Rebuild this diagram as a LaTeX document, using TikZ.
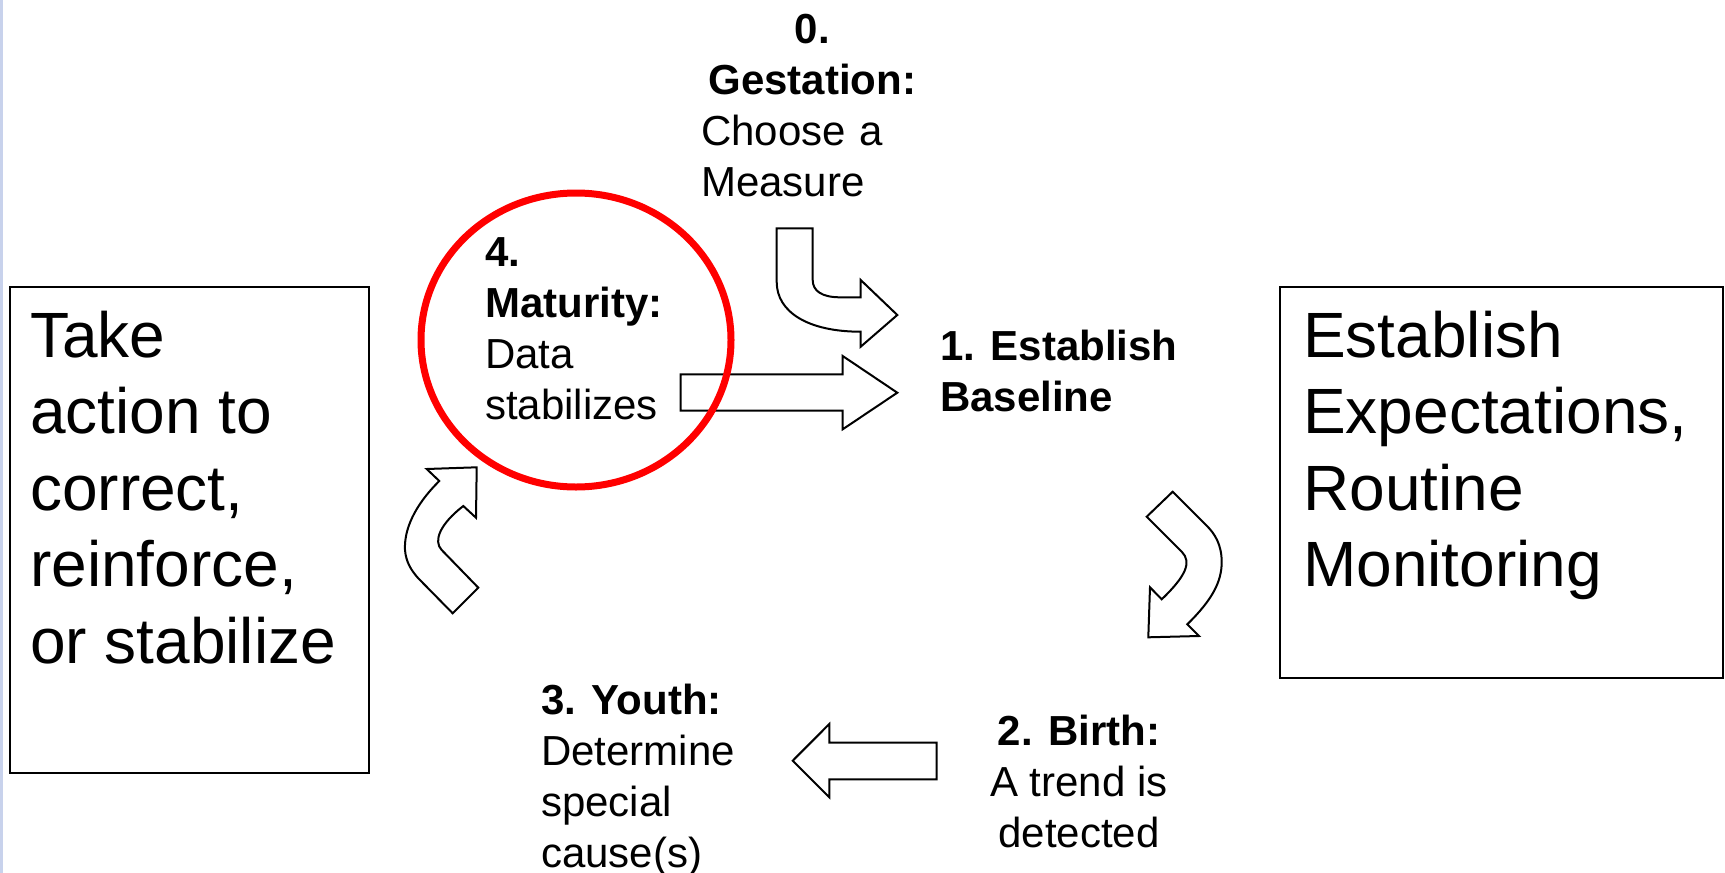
\documentclass[tikz,border=0pt]{standalone}
\usepackage{fontspec}
\setmainfont{Liberation Sans}
\definecolor{edgeblue}{RGB}{200,210,236}
\definecolor{ringred}{RGB}{255,0,0}
\begin{document}
\begin{tikzpicture}[x=1pt,y=-1pt,
  bigbox/.style={draw, line width=2pt, inner sep=0pt, anchor=north west},
  blockarrow/.style={draw, line width=2pt, fill=white, line join=miter},
  bigtext/.style={font=\fontsize{64}{76.6}\selectfont, align=left, inner sep=0pt, anchor=base west},
  smalltext/.style={font=\fontsize{42}{51}\selectfont, align=left, inner sep=0pt, anchor=base west},
]
\useasboundingbox[fill=white] (0,0) rectangle (1725,873);
\draw[edgeblue, line width=3pt] (1.5,0) -- (1.5,873);

% boxes
\node[bigbox, minimum width=359pt, minimum height=486pt] (leftbox) at (9,286) {};
\node[bigbox, minimum width=443pt, minimum height=391pt] (rightbox) at (1279,286) {};

% box texts (anchored at the baseline of the last line)
\node[bigtext] (lefttext) at (30,663.4) {Take\\action to\\correct,\\reinforce,\\or stabilize};
\node[bigtext] (righttext) at (1303,586.8) {Establish\\Expectations,\\Routine\\Monitoring};

% stage texts
\node[smalltext, text width=222pt] (gestation) at (701,43)
  {\hspace*{\fill}\textbf{0.}\hspace*{\fill}\null\\\hspace*{\fill}\textbf{Gestation:}\hspace*{\fill}\null\\Choose a\\Measure};
\node[smalltext] (maturity) at (485,419) {\textbf{4.}\\\textbf{Maturity:}\\Data\\stabilizes};
\node[smalltext] (baseline) at (940,411) {\textbf{1. Establish}\\\textbf{Baseline}};
\node[smalltext, align=center, anchor=base] (birth) at (1079,847) {\textbf{2. Birth:}\\A trend is\\detected};
\node[smalltext] (youth) at (541,867) {\textbf{3. Youth:}\\Determine\\special\\cause(s)};

% top curved arrow (down then right)
\draw[blockarrow] (776.7,228.3) -- (812.7,228.3) -- (812.7,280)
  .. controls (812.7,291) and (822,297.3) .. (840,297.3) -- (860.7,297.3)
  -- (860.7,280) -- (897.3,315) -- (860.7,346.7) -- (860.7,331.7)
  .. controls (808,331.7) and (776.7,312) .. (776.7,282) -- cycle;

% straight right arrow
\draw[blockarrow] (680.7,374.3) -- (842.7,374.3) -- (842.7,356) -- (897.3,392.7)
  -- (842.7,429.3) -- (842.7,410.7) -- (680.7,410.7) -- cycle;

% right curved arrow (down-right then down-left)
\draw[blockarrow] (1172.7,491.7) -- (1146.7,516.7) -- (1181.7,551.7)
  .. controls (1192,562) and (1186,576) .. (1161.7,599.3)
  -- (1150,587.3) -- (1148.3,637.3) -- (1199,636) -- (1187.3,624.3)
  .. controls (1212,600) and (1221.7,582) .. (1221.7,562)
  .. controls (1221.7,545) and (1215,534) .. (1207,526) -- cycle;

% bottom left arrow
\draw[blockarrow] (936.7,742.7) -- (829.3,742.7) -- (829.3,724) -- (792.7,760.7)
  -- (829.3,797.3) -- (829.3,779.3) -- (936.7,779.3) -- cycle;

% left curved arrow (up-left then up-right)
\draw[blockarrow] (452.7,613.3) -- (478.3,587.7) -- (441.7,550)
  .. controls (433,541) and (440,524) .. (463.3,506)
  -- (476,517.7) -- (476.7,467.3) -- (426.7,469) -- (439.3,481)
  .. controls (414,506) and (404,530) .. (405,550)
  .. controls (406,562) and (411,570) .. (418,578) -- cycle;

% red ring (drawn on top of the arrows)
\draw[ringred, line width=7pt] (576,340) ellipse [x radius=155pt, y radius=147pt];
\end{tikzpicture}
\end{document}
